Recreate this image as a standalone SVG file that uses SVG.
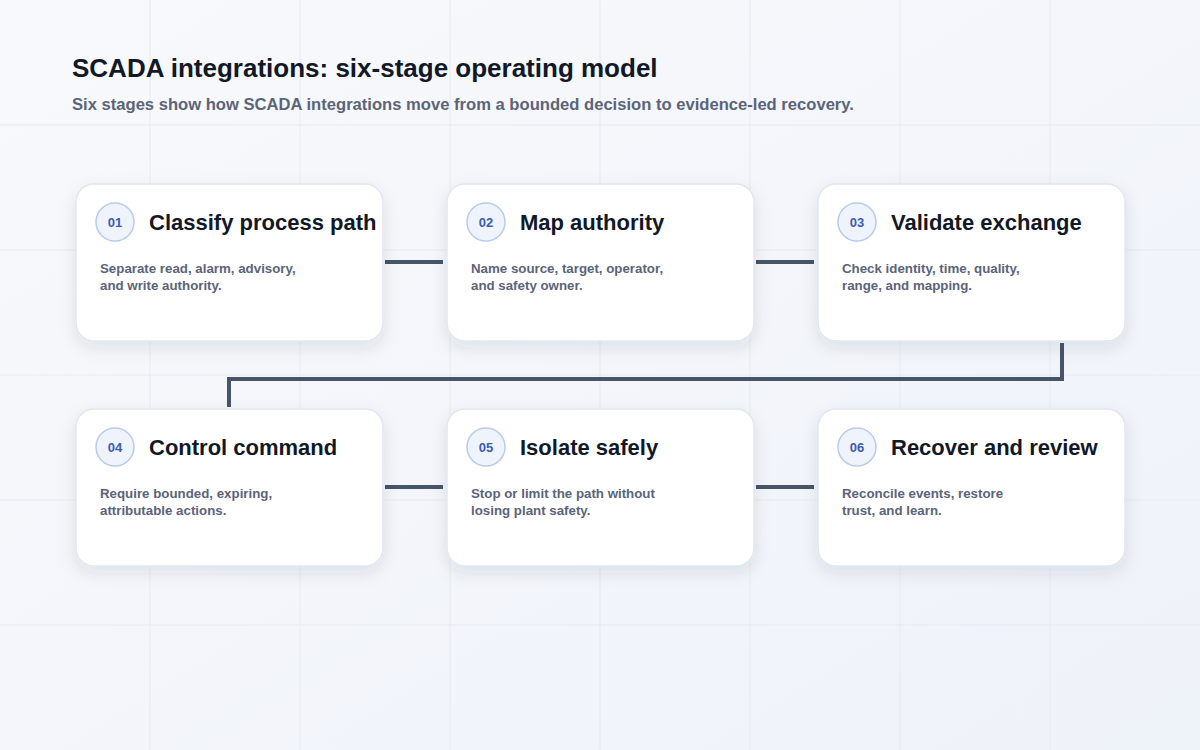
<svg xmlns="http://www.w3.org/2000/svg" width="1200" height="750" viewBox="0 0 1200 750">
<defs>
<linearGradient id="bg" x1="0" y1="0" x2="1" y2="1"><stop offset="0" stop-color="#f8f9fc"/><stop offset="1" stop-color="#eef2f9"/></linearGradient>
<filter id="sh" x="-20%" y="-20%" width="140%" height="150%"><feDropShadow dx="0" dy="6" stdDeviation="8" flood-color="#1e293b" flood-opacity="0.10"/></filter>
<style>
.card{fill:#fff;stroke:#e2e6ee;stroke-width:1.5;filter:url(#sh)}
.badge{fill:#eef3fc;stroke:#b9cbec;stroke-width:1.5}
.num{font:bold 13px "Liberation Sans",Arial,sans-serif;fill:#3b5cb0;text-anchor:middle}
.tt{font:bold 22px "Liberation Sans",Arial,sans-serif;fill:#111827}
.bd{font:bold 13.3px "Liberation Sans",Arial,sans-serif;fill:#5b6478}
.grid{stroke:#e6eaf1;stroke-width:1}
.con{fill:none;stroke:#475569;stroke-width:4}
</style>
</defs>
<rect width="1200" height="750" fill="url(#bg)"/>
<g class="grid">
<line x1="150" y1="0" x2="150" y2="750"/><line x1="300" y1="0" x2="300" y2="750"/><line x1="450" y1="0" x2="450" y2="750"/><line x1="600" y1="0" x2="600" y2="750"/><line x1="750" y1="0" x2="750" y2="750"/><line x1="900" y1="0" x2="900" y2="750"/><line x1="1050" y1="0" x2="1050" y2="750"/>
<line x1="0" y1="125" x2="1200" y2="125"/><line x1="0" y1="250" x2="1200" y2="250"/><line x1="0" y1="375" x2="1200" y2="375"/><line x1="0" y1="500" x2="1200" y2="500"/><line x1="0" y1="625" x2="1200" y2="625"/>
</g>
<text x="72" y="77" style="font:bold 26px 'Liberation Sans',Arial,sans-serif;fill:#111827">SCADA integrations: six-stage operating model</text>
<text x="72" y="110" style="font:bold 16.6px 'Liberation Sans',Arial,sans-serif;fill:#5b6478">Six stages show how SCADA integrations move from a bounded decision to evidence-led recovery.</text>
<g id="connectors">
<line class="con" x1="385" y1="262" x2="443" y2="262"/>
<line class="con" x1="756" y1="262" x2="814" y2="262"/>
<polyline class="con" points="1062,343 1062,379 229,379 229,407"/>
<line class="con" x1="385" y1="487" x2="443" y2="487"/>
<line class="con" x1="756" y1="487" x2="814" y2="487"/>
</g>
<g id="n1"><rect class="card" x="76" y="184" width="307" height="157" rx="18"/><circle class="badge" cx="115" cy="222" r="19"/><text class="num" x="115" y="227">01</text><text class="tt" x="149" y="230">Classify process path</text><text class="bd" x="100" y="273">Separate read, alarm, advisory,</text><text class="bd" x="100" y="290">and write authority.</text></g>
<g id="n2"><rect class="card" x="447" y="184" width="307" height="157" rx="18"/><circle class="badge" cx="486" cy="222" r="19"/><text class="num" x="486" y="227">02</text><text class="tt" x="520" y="230">Map authority</text><text class="bd" x="471" y="273">Name source, target, operator,</text><text class="bd" x="471" y="290">and safety owner.</text></g>
<g id="n3"><rect class="card" x="818" y="184" width="307" height="157" rx="18"/><circle class="badge" cx="857" cy="222" r="19"/><text class="num" x="857" y="227">03</text><text class="tt" x="891" y="230">Validate exchange</text><text class="bd" x="842" y="273">Check identity, time, quality,</text><text class="bd" x="842" y="290">range, and mapping.</text></g>
<g id="n4"><rect class="card" x="76" y="409" width="307" height="157" rx="18"/><circle class="badge" cx="115" cy="447" r="19"/><text class="num" x="115" y="452">04</text><text class="tt" x="149" y="455">Control command</text><text class="bd" x="100" y="498">Require bounded, expiring,</text><text class="bd" x="100" y="515">attributable actions.</text></g>
<g id="n5"><rect class="card" x="447" y="409" width="307" height="157" rx="18"/><circle class="badge" cx="486" cy="447" r="19"/><text class="num" x="486" y="452">05</text><text class="tt" x="520" y="455">Isolate safely</text><text class="bd" x="471" y="498">Stop or limit the path without</text><text class="bd" x="471" y="515">losing plant safety.</text></g>
<g id="n6"><rect class="card" x="818" y="409" width="307" height="157" rx="18"/><circle class="badge" cx="857" cy="447" r="19"/><text class="num" x="857" y="452">06</text><text class="tt" x="891" y="455">Recover and review</text><text class="bd" x="842" y="498">Reconcile events, restore</text><text class="bd" x="842" y="515">trust, and learn.</text></g>
</svg>
